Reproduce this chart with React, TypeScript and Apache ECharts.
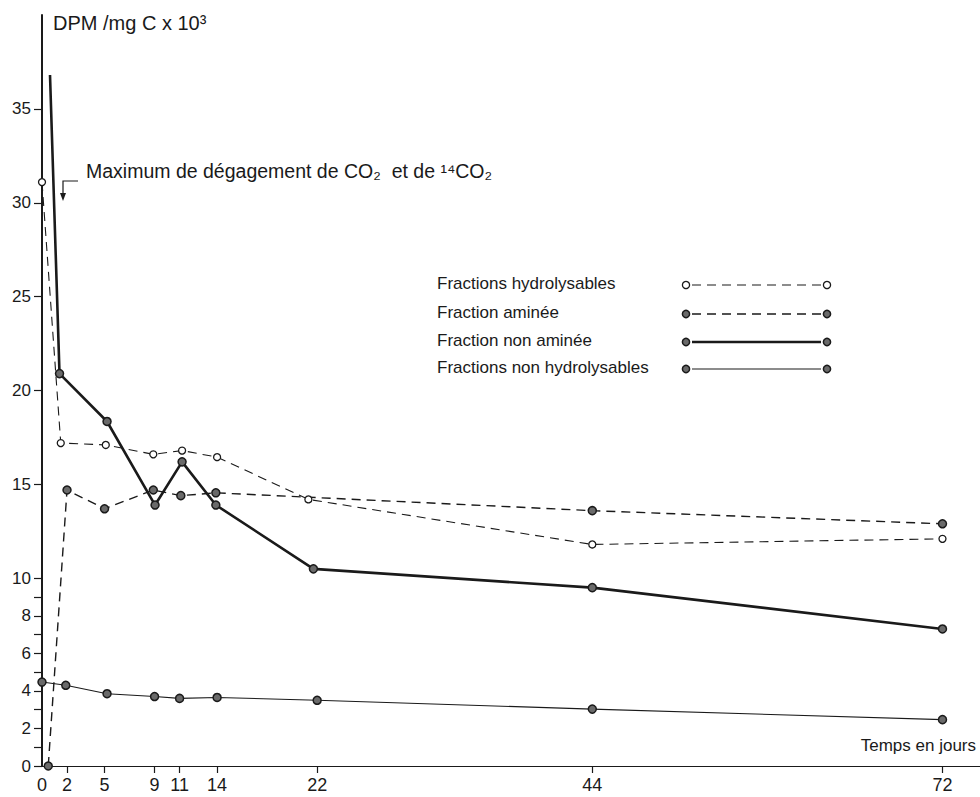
import React, { useEffect, useRef } from "react";
import * as echarts from "echarts";

// Days (x) and DPM/mgC x10^3 (y) per series
const xHydro = [0, 1.5, 5.1, 8.9, 11.2, 14, 21.3, 44, 72];
const yHydro = [31.1, 17.2, 17.1, 16.6, 16.8, 16.45, 14.2, 11.8, 12.1];
const xAmine = [0.5, 2, 5, 8.9, 11.1, 13.9, 44, 72];
const yAmine = [0, 14.7, 13.7, 14.7, 14.4, 14.55, 13.6, 12.9];
const xNonAmine = [0.64, 1.4, 5.2, 9.04, 11.2, 13.9, 21.7, 44, 72];
const yNonAmine = [36.8, 20.9, 18.35, 13.9, 16.2, 13.9, 10.5, 9.5, 7.3];
const xNonHydro = [0, 1.9, 5.2, 9, 11, 14, 22, 44, 72];
const yNonHydro = [4.47, 4.3, 3.85, 3.7, 3.6, 3.65, 3.5, 3.03, 2.47];

const xTickLabels = [0, 2, 5, 9, 11, 14, 22, 44, 72];
const yTickLabels = [0, 2, 4, 6, 8, 10, 15, 20, 25, 30, 35];
const yTicks = [0, 1, 2, 3, 4, 5, 6, 7, 8, 9, 10, 15, 20, 25, 30, 35];

const legendNames = [
  "Fractions hydrolysables",
  "Fraction aminée",
  "Fraction non aminée",
  "Fractions non hydrolysables",
];

const FONT = "'Liberation Sans', Arial, sans-serif";
const INK = "#1a1a1a";

function pairs(xs: number[], ys: number[]) {
  return xs.map((x, i) => [x, ys[i]]);
}

export default function App() {
  const ref = useRef<HTMLDivElement>(null);
  useEffect(() => {
    if (!ref.current) return;
    const chart = echarts.init(ref.current, undefined, { renderer: "svg" });

    const filled = { color: "#6a6a6a", borderColor: INK, borderWidth: 1.5 };
    const open = { color: "#ffffff", borderColor: INK, borderWidth: 1.3 };

    const legendStyles = [
      { dash: [9, 6], width: 1.1, item: open },
      { dash: [9, 6], width: 1.4, item: filled },
      { dash: null, width: 2.6, item: filled },
      { dash: null, width: 1.1, item: filled },
    ];
    const legendRowsY = [285, 314, 342, 369];
    const legendGraphics: any[] = [];
    legendNames.forEach((name, i) => {
      const y = legendRowsY[i];
      const st = legendStyles[i];
      legendGraphics.push({
        type: "text",
        left: 437,
        top: y - 10,
        style: { text: name, fontSize: 17, fontFamily: FONT, fill: INK },
      });
      legendGraphics.push({
        type: "line",
        shape: { x1: 692, y1: y, x2: 821, y2: y },
        style: { stroke: INK, lineWidth: st.width, lineDash: st.dash || undefined },
      });
      [686, 827].forEach((cx) => {
        legendGraphics.push({
          type: "circle",
          shape: { cx, cy: y, r: 3.6 },
          style: {
            fill: st.item.color,
            stroke: st.item.borderColor,
            lineWidth: st.item.borderWidth,
          },
        });
      });
    });

    const option: any = {
      animation: false,
      backgroundColor: "#ffffff",
      grid: { left: 42, right: 0, top: 15, bottom: 31 },
      xAxis: {
        type: "value",
        min: 0,
        max: 75,
        axisLine: { show: true, lineStyle: { color: INK, width: 1.2 } },
        axisTick: {
          show: true,
          length: 7,
          customValues: xTickLabels.slice(1),
          lineStyle: { color: INK, width: 1.2 },
        },
        axisLabel: {
          customValues: xTickLabels,
          fontSize: 18,
          fontFamily: FONT,
          color: INK,
          margin: 10,
          showMaxLabel: true,
          showMinLabel: true,
        },
        splitLine: { show: false },
      },
      yAxis: {
        type: "value",
        min: 0,
        max: 40,
        axisLine: { show: true, lineStyle: { color: INK, width: 2 } },
        axisTick: {
          show: true,
          length: 8,
          customValues: yTicks,
          lineStyle: { color: INK, width: 1.2 },
        },
        axisLabel: {
          customValues: yTickLabels,
          fontSize: 17,
          fontFamily: FONT,
          color: INK,
          margin: 11,
          showMinLabel: true,
        },
        splitLine: { show: false },
      },
      series: [
        {
          name: legendNames[0],
          type: "line",
          data: pairs(xHydro, yHydro),
          symbol: "circle",
          symbolSize: 7,
          itemStyle: open,
          lineStyle: { color: INK, width: 1.1, type: [9, 6] },
          z: 3,
        },
        {
          name: legendNames[1],
          type: "line",
          data: pairs(xAmine, yAmine),
          symbol: "circle",
          symbolSize: 8,
          itemStyle: filled,
          lineStyle: { color: INK, width: 1.4, type: [9, 6] },
          z: 3,
        },
        {
          name: legendNames[2],
          type: "line",
          data: pairs(xNonAmine, yNonAmine).map((p, i) =>
            i === 0 ? { value: p, symbol: "none" } : { value: p }
          ),
          symbol: "circle",
          symbolSize: 8,
          itemStyle: filled,
          lineStyle: { color: INK, width: 2.6 },
          z: 4,
        },
        {
          name: legendNames[3],
          type: "line",
          data: pairs(xNonHydro, yNonHydro),
          symbol: "circle",
          symbolSize: 8,
          itemStyle: filled,
          lineStyle: { color: INK, width: 1.1 },
          z: 3,
        },
      ],
      graphic: [
        {
          type: "text",
          left: 53,
          top: 13,
          style: {
            text: "DPM /mg C x 10³",
            fontSize: 20,
            fontFamily: FONT,
            fill: INK,
          },
        },
        {
          type: "text",
          left: 86,
          top: 161,
          style: {
            text: "Maximum de dégagement de CO₂  et de ¹⁴CO₂",
            fontSize: 19.5,
            fontFamily: FONT,
            fill: INK,
          },
        },
        {
          type: "polyline",
          shape: { points: [[78, 181], [63, 181], [63, 195]] },
          style: { stroke: INK, lineWidth: 1.2, fill: "none" },
        },
        {
          type: "polygon",
          shape: { points: [[60, 193], [66, 193], [63, 201]] },
          style: { fill: INK },
        },
        {
          type: "text",
          right: 4,
          top: 737,
          style: {
            text: "Temps en jours",
            fontSize: 17,
            fontFamily: FONT,
            fill: INK,
          },
        },
        ...legendGraphics,
      ],
    };
    chart.setOption(option);
    return () => chart.dispose();
  }, []);
  return (
    <div
      ref={ref}
      style={{ position: "absolute", left: 0, top: 0, width: 980, height: 797, background: "#fff" }}
    />
  );
}
